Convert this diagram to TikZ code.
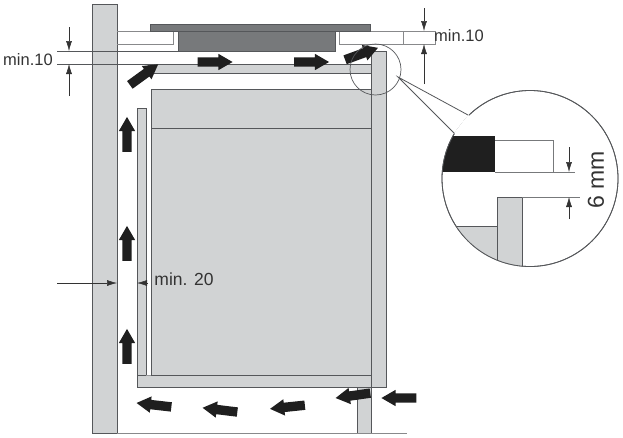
\documentclass[tikz,border=0pt]{standalone}
\usepackage{fontspec}
\setmainfont{Liberation Sans}
\usetikzlibrary{arrows.meta,shapes.arrows}
\definecolor{panelgray}{HTML}{D1D3D4}
\definecolor{edgegray}{HTML}{55575A}
\definecolor{hobgray}{HTML}{77797B}
\definecolor{inkgray}{HTML}{333333}
\tikzset{panel/.style={%
  fill=panelgray,
  draw=edgegray,
  line width=0.9pt,
  }
}
\tikzset{edge/.style={%
  draw=edgegray,
  line width=0.8pt,
  }
}
\tikzset{dimline/.style={%
  -{Latex[length=10pt,width=6pt]},
  draw=inkgray,
  line width=0.5pt,
  }
}
\tikzset{airflow/.style={%
  single arrow,
  fill=black!88,
  inner sep=4.5pt,
  minimum height=35pt,
  single arrow head extend=3.5pt,
  single arrow tip angle=60,
  anchor=center,
  }
}
\tikzset{dimlabel/.style={%
  text=inkgray,
  inner sep=0pt,
  font=\fontsize{16.5}{18}\selectfont,
  }
}

\begin{document}
\begin{tikzpicture}[x=1pt,y=-1pt]
  \useasboundingbox (0,0) rectangle (623,437);

  % carcass
  \draw [panel] (92,4) rectangle (117,433);
  \draw [panel] (357,386) rectangle (371,433);
  \draw [edge, draw=edgegray!70] (117,433) -- (407,433);
  \draw [panel] (148,64) rectangle (371,73);
  \draw [panel] (151,89) rectangle (371,375);
  \draw [edge] (151,128) -- (371,128);
  \draw [panel] (137,375) rectangle (371,387);
  \draw [panel] (371,51) rectangle (386,387);
  \draw [panel] (137,108) rectangle (146,375);
  \draw [edge, draw=edgegray!60] (146,375) -- (151,375);

  % worktop and hob
  \draw [edge, draw=edgegray!70] (117,31) -- (173,31) -- (173,44) -- (117,44);
  \draw [edge, draw=edgegray!70] (339,31) rectangle (403,44);
  \draw [edge, draw=edgegray!70] (403,31) -- (435,31) -- (435,44) -- (403,44);
  \draw [edge, fill=hobgray] (178,31) rectangle (335,51);
  \draw [edge, fill=hobgray] (150,24) rectangle (370,31);
  \draw [edge] (57,51) -- (178,51);
  \draw [edge] (57,64) -- (372,64);

  % air flow
  \node (flowA) [airflow, rotate=90] at (127,138.5) {};
  \node (flowB) [airflow, rotate=90] at (127,247.5) {};
  \node (flowC) [airflow, rotate=90] at (127,350.5) {};
  \node (flowD) [airflow, rotate=36] at (140.7,77) {};
  \node (flowE) [airflow] at (211,62) {};
  \node (flowF) [airflow] at (307.5,62) {};
  \node (flowG) [airflow, rotate=20] at (357.7,55.2) {};
  \node (flowH) [airflow, rotate=173.5] at (158,405.4) {};
  \node (flowI) [airflow, rotate=173] at (224,410.4) {};
  \node (flowJ) [airflow, rotate=186] at (291.5,406.6) {};
  \node (flowK) [airflow, rotate=188] at (357,395) {};
  \node (flowL) [airflow, rotate=180] at (403,398) {};

  % clearances
  \coordinate (lefttop) at (69,27);
  \coordinate (lefttopend) at (69,51);
  \coordinate (leftlow) at (69,96);
  \coordinate (leftlowend) at (69,64);
  \draw [dimline] (lefttop) -- (lefttopend);
  \draw [dimline] (leftlow) -- (leftlowend);
  \node (minleft) [dimlabel] at (28,60) {min.10};

  \coordinate (righttop) at (424,8);
  \coordinate (righttopend) at (424,31);
  \coordinate (rightlow) at (424,84);
  \coordinate (rightlowend) at (424,44);
  \draw [dimline] (righttop) -- (righttopend);
  \draw [dimline] (rightlow) -- (rightlowend);
  \node (minright) [dimlabel] at (459,36) {min.10};

  \coordinate (gapleft) at (57,283);
  \coordinate (gapleftend) at (117,283);
  \coordinate (gapright) at (148,283);
  \coordinate (gaprightend) at (137,283);
  \draw [dimline] (gapleft) -- (gapleftend);
  \draw [dimline] (gapright) -- (gaprightend);
  \node (mingap) [dimlabel, font=\fontsize{17.5}{19}\selectfont] at (184,279) {min. 20};

  % detail
  \node (spot) [circle, draw=edgegray, line width=0.7pt, inner sep=0pt, minimum size=51pt] at (375.5,69.5) {};
  \node (lens) [circle, draw=edgegray, fill=white, line width=0.8pt, inner sep=0pt, minimum size=176pt] at (530,178.5) {};
  \begin{scope}
    \clip (lens.center) circle [radius=88pt];
    \fill [black!88] (430,136) rectangle (495,172);
    \draw [panel] (430,226) rectangle (497,280);
    \draw [panel] (497,197) rectangle (522,280);
  \end{scope}
  \draw [edge, draw=edgegray!80] (495,140.5) -- (553,140.5) -- (553,172);
  \draw [edge, draw=edgegray!80] (495,172) -- (575,172);
  \draw [edge, draw=edgegray!80] (522,197) -- (580,197);
  \draw [edge] (lens.center) circle [radius=88pt];

  \coordinate (spottip) at (398,77);
  \coordinate (lensa) at (468,115);
  \coordinate (lensb) at (454,133);
  \fill [white] (lensa) -- (lensb) -- (457,135) -- (471,117) -- cycle;
  \fill [white] (lensa) -- (spottip) -- (lensb) -- cycle;
  \draw [edge] (lensa) -- (spottip) -- (lensb);

  \coordinate (cleartop) at (569,147);
  \coordinate (cleartopend) at (569,172);
  \coordinate (clearlow) at (569,219);
  \coordinate (clearlowend) at (569,197);
  \draw [dimline] (cleartop) -- (cleartopend);
  \draw [dimline] (clearlow) -- (clearlowend);
  \node (clearlabel) [dimlabel, rotate=90, font=\fontsize{23}{25}\selectfont] at (596,180) {6 mm};
\end{tikzpicture}
\end{document}
